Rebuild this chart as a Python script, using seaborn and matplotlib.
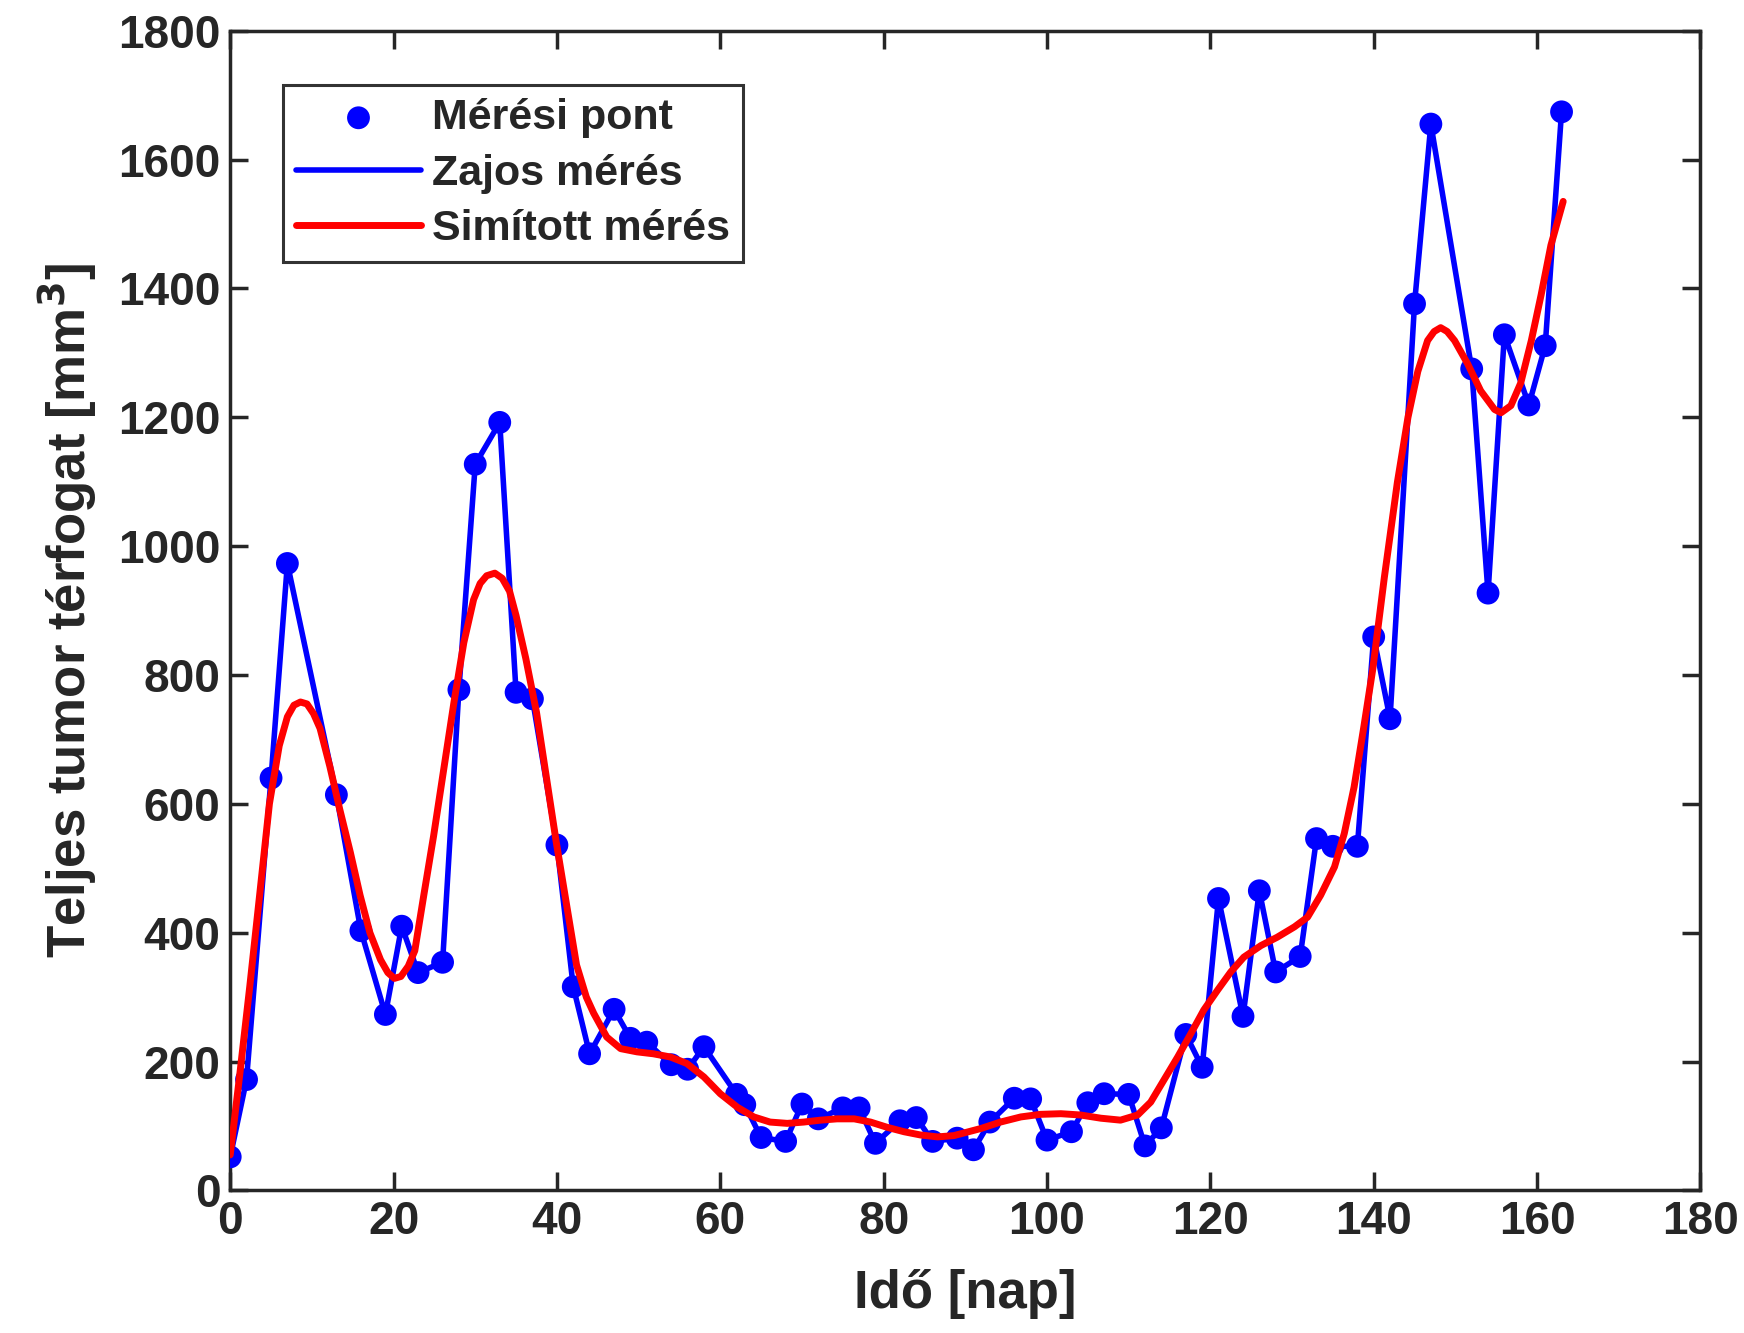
import numpy as np
import pandas as pd
import matplotlib
matplotlib.use("Agg")
import matplotlib.pyplot as plt
import seaborn as sns

# measured points (day, volume)
days = [0, 2, 5, 7, 13, 16, 19, 21, 23, 26, 28, 30, 33, 35, 37, 40, 42, 44, 47, 49,
        51, 54, 56, 58, 62, 63, 65, 68, 70, 72, 75, 77, 79, 82, 84, 86, 89, 91, 93, 96,
        98, 100, 103, 105, 107, 110, 112, 114, 117, 119, 121, 124, 126, 128, 131, 133,
        135, 138, 140, 142, 145, 147, 152, 154, 156, 159, 161, 163]
volume = [52, 172, 640, 973, 614, 403, 273, 410, 338, 354, 777, 1127, 1192, 773, 763,
          536, 316, 212, 281, 236, 230, 195, 188, 223, 149, 133, 82, 76, 134, 111, 128,
          128, 73, 108, 113, 76, 81, 63, 106, 143, 142, 78, 91, 136, 150, 149, 69, 97,
          242, 191, 453, 270, 465, 339, 363, 546, 534, 534, 859, 732, 1376, 1655, 1275,
          927, 1328, 1219, 1311, 1674]

# smoothed curve
smooth_x = [0, 1.2, 2.4, 3.6, 4.8, 6.0, 7.0, 7.8, 8.6, 9.4, 10.2, 11.0, 12.2, 13.4,
            14.7, 15.9, 17.1, 18.4, 19.3, 20.1, 20.9, 21.8, 22.6, 23.7, 24.9, 26.1,
            27.4, 28.6, 29.8, 30.6, 31.4, 32.4, 33.3, 34.2, 35.0, 36.2, 37.5, 38.7,
            39.9, 41.2, 42.4, 43.6, 44.5, 46.1, 47.8, 49.8, 51.8, 53.9, 55.9, 58.0,
            60.0, 62.1, 64.1, 66.1, 68.2, 70.2, 72.3, 74.3, 76.4, 78.4, 80.4, 82.5,
            84.5, 86.6, 88.6, 91.9, 94.3, 96.8, 99.2, 101.7, 104.1, 106.6, 109.0,
            111.1, 112.7, 114.3, 116.0, 117.6, 119.2, 120.9, 122.5, 124.1, 126.2,
            128.2, 130.3, 131.9, 133.5, 135.2, 136.4, 137.6, 138.8, 139.9, 141.3,
            142.9, 144.2, 145.4, 146.6, 147.4, 148.2, 149.0, 149.9, 151.5, 153.1,
            154.8, 155.6, 156.8, 158.0, 159.3, 160.5, 161.7, 163.2]
smooth_y = [55, 183, 317, 458, 600, 690, 735, 753, 758, 755, 740, 717, 658, 592,
            525, 458, 400, 358, 338, 329, 332, 348, 372, 458, 550, 650,
            758, 850, 917, 942, 954, 958, 950, 930, 892, 825, 742, 642,
            542, 442, 350, 300, 275, 238, 220, 215, 212, 207, 197, 176,
            150, 129, 114, 106, 104, 106, 109, 111, 111, 106, 98, 91,
            86, 83, 85, 96, 106, 114, 118, 119, 117, 112, 109,
            117, 137, 171, 207, 243, 280, 311, 339, 362, 380,
            393, 409, 424, 458, 502, 554, 626, 720, 810, 951,
            1099, 1200, 1271, 1319, 1333, 1339, 1333, 1319, 1283, 1241,
            1212, 1207, 1218, 1253, 1319, 1390, 1467, 1535]

meas = pd.DataFrame({"nap": days, "v": volume})
smooth = pd.DataFrame({"nap": smooth_x, "v": smooth_y})

sns.set_style("ticks")
plt.rcParams["font.family"] = ["Liberation Sans", "DejaVu Sans"]
plt.rcParams["font.weight"] = "bold"
plt.rcParams["axes.labelweight"] = "bold"

dark = "#262626"
fig = plt.figure(figsize=(17.44, 13.33), dpi=100)
ax = fig.add_axes([0.132, 0.107, 0.843, 0.870])

sns.scatterplot(data=meas, x="nap", y="v", color="blue", s=270, edgecolor="none",
                label="Mérési pont", zorder=3, ax=ax)
sns.lineplot(data=meas, x="nap", y="v", color="blue", linewidth=4, estimator=None,
             label="Zajos mérés", zorder=2, ax=ax)
sns.lineplot(data=smooth, x="nap", y="v", color="red", linewidth=5, estimator=None,
             label="Simított mérés", zorder=4, ax=ax)

ax.set_xlim(0, 180)
ax.set_ylim(0, 1800)
ax.set_xticks(np.arange(0, 181, 20))
ax.set_yticks(np.arange(0, 1801, 200))
ax.tick_params(direction="in", length=13, width=2.5, colors=dark, labelsize=33,
               top=True, right=True, pad=7)
for lab in ax.get_xticklabels() + ax.get_yticklabels():
    lab.set_fontweight("bold")
for sp in ax.spines.values():
    sp.set_linewidth(2.5)
    sp.set_color(dark)
    sp.set_visible(True)

ax.set_xlabel("Idő [nap]", fontsize=38, color=dark, labelpad=18)
ax.set_ylabel("Teljes tumor térfogat [mm$^\\mathbf{3}$]", fontsize=38, color=dark,
              labelpad=14)

leg = ax.legend(loc="upper left", bbox_to_anchor=(0.036, 0.953), fontsize=31,
                frameon=True, fancybox=False, edgecolor="black", handlelength=2.9,
                borderpad=0.3, labelspacing=0.36, handletextpad=0.25, borderaxespad=0)
leg.get_frame().set_linewidth(2.2)
for t in leg.get_texts():
    t.set_fontweight("bold")

fig.savefig("out.png", dpi=100)
